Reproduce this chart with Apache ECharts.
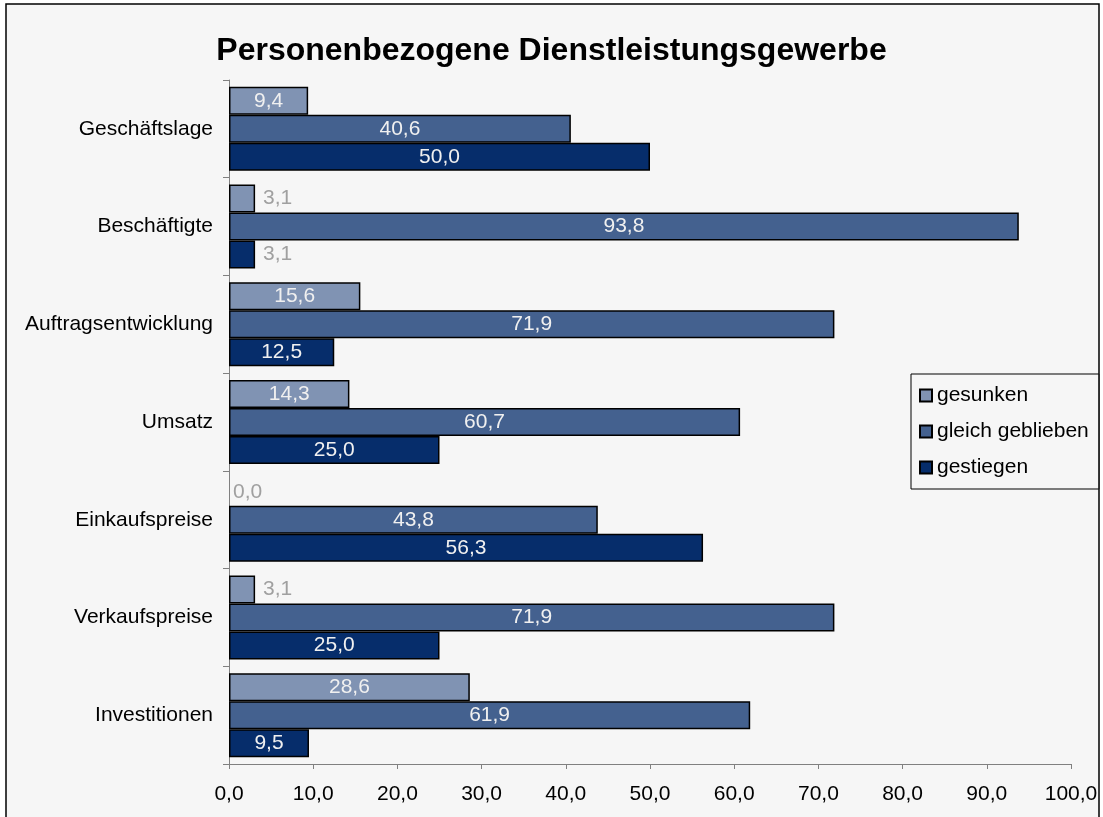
<!DOCTYPE html>
<html>
<head>
<meta charset="utf-8">
<script src="https://cdn.jsdelivr.net/npm/echarts@6/dist/echarts.min.js"></script>
<style>
  html, body { margin: 0; padding: 0; background: #ffffff; }
  #chart { width: 1103px; height: 817px; }
</style>
</head>
<body>
<div id="chart"></div>
<script>
// Kategorien von oben nach unten
const categories = ['Geschäftslage', 'Beschäftigte', 'Auftragsentwicklung', 'Umsatz',
    'Einkaufspreise', 'Verkaufspreise', 'Investitionen'];
const seriesNames = ['gesunken', 'gleich geblieben', 'gestiegen'];
const gesunken = [9.4, 3.1, 15.6, 14.3, 0.0, 3.1, 28.6];
const gleichGeblieben = [40.6, 93.8, 71.9, 60.7, 43.8, 71.9, 61.9];
const gestiegen = [50.0, 3.1, 12.5, 25.0, 56.3, 25.0, 9.5];
const colors = ['#8093b3', '#44618f', '#062d6b'];

const font = "'Liberation Sans', Arial, sans-serif";
const fmt = v => v.toFixed(1).replace('.', ',');

// kleine Werte passen nicht in den Balken -> Beschriftung rechts daneben, grau
function toData(values) {
    return values.map(v => {
        if (v === 0) {
            return {value: v, itemStyle: {borderWidth: 0},
                label: {position: 'right', distance: 4, color: '#a0a0a0'}};
        }
        if (v < 5) {
            return {value: v, label: {position: 'right', distance: 8, color: '#a0a0a0'}};
        }
        return {value: v};
    });
}

const chart = echarts.init(document.getElementById('chart'));
chart.setOption({
    backgroundColor: '#ffffff',
    animation: false,
    textStyle: {fontFamily: font},
    graphic: [{
        type: 'rect',
        z: -10,
        shape: {x: 6, y: 4, width: 1093, height: 830},
        style: {fill: '#f6f6f6', stroke: '#000', lineWidth: 1.5}
    }],
    title: {
        text: 'Personenbezogene Dienstleistungsgewerbe',
        left: 'center',
        top: 30,
        textStyle: {fontSize: 32, fontWeight: 'bold', color: '#000', fontFamily: font}
    },
    legend: {
        data: seriesNames,
        orient: 'vertical',
        left: 911,
        top: 374,
        padding: [11, 10, 11, 8],
        itemWidth: 12,
        itemHeight: 12,
        itemGap: 15,
        backgroundColor: '#f6f6f6',
        borderColor: '#000',
        borderWidth: 1,
        icon: 'rect',
        textStyle: {fontSize: 21, color: '#000', fontFamily: font}
    },
    grid: {left: 229, right: 32, top: 80, bottom: 53, containLabel: false},
    xAxis: {
        type: 'value',
        min: 0,
        max: 100,
        interval: 10,
        axisLine: {show: true, lineStyle: {color: '#808080', width: 1}},
        axisTick: {show: true, length: 5, lineStyle: {color: '#808080'}},
        splitLine: {show: false},
        axisLabel: {fontSize: 21, color: '#000', margin: 20, formatter: v => fmt(v)}
    },
    yAxis: {
        type: 'category',
        data: categories,
        inverse: true,
        axisLine: {show: true, lineStyle: {color: '#808080', width: 1}},
        axisTick: {show: true, length: 6, lineStyle: {color: '#808080'}},
        axisLabel: {fontSize: 21, color: '#000', margin: 16}
    },
    series: [gesunken, gleichGeblieben, gestiegen].map((vals, i) => ({
        name: seriesNames[i],
        type: 'bar',
        data: toData(vals),
        barWidth: 28,
        barGap: '0%',
        itemStyle: {color: colors[i], borderColor: '#000', borderWidth: 1.5},
        label: {
            show: true,
            position: 'inside',
            color: '#f0f0f0',
            fontSize: 21,
            fontFamily: font,
            formatter: p => fmt(p.value)
        }
    }))
});
</script>
</body>
</html>
